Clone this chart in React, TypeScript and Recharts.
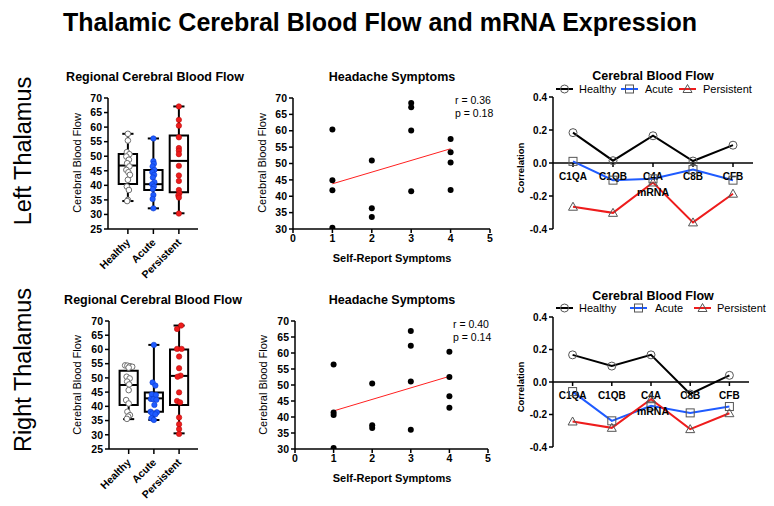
import React from 'react';
import { ComposedChart, Scatter, Line, XAxis, YAxis, ReferenceArea, ReferenceLine, ReferenceDot } from 'recharts';

const FONT = '"Liberation Sans", Arial, Helvetica, sans-serif';

// ---------- categories & ticks ----------
const groups = ['Healthy', 'Acute', 'Persistent'];
const groupPositions = [1, 2, 3];
const genes = ['C1QA', 'C1QB', 'C4A', 'C8B', 'CFB'];
const boxTicks = [25, 30, 35, 40, 45, 50, 55, 60, 65, 70];
const scatterYTicks = [30, 35, 40, 45, 50, 55, 60, 65, 70];
const scatterXTicks = [0, 1, 2, 3, 4, 5];
const corrTicks = [-0.4, -0.2, 0, 0.2, 0.4];

// ---------- Left thalamus: box plot summary ----------
const leftMin = [34.6, 32.1, 30.4];
const leftQ1 = [40.5, 38.4, 37.6];
const leftMedian = [46.8, 40.4, 48.4];
const leftQ3 = [50.8, 45.3, 57.1];
const leftMax = [57.7, 56.1, 67.1];

// ---------- Left thalamus: individual points ----------
const leftHealthyY = [57.7, 55.4, 51.4, 50.7, 49.9, 48.8, 47.6, 46.5, 45.3, 44.5, 43.6, 41.9, 39.6, 38.4, 35.0, 34.6];
const leftHealthyX = [1.0, 1.0, 0.96, 1.06, 0.94, 1.04, 0.97, 1.06, 0.94, 1.02, 1.08, 1.0, 0.96, 1.04, 1.0, 0.97];
const leftAcuteY = [56.1, 48.3, 47.4, 46.5, 45.3, 44.5, 43.6, 42.7, 41.1, 40.4, 39.6, 38.7, 36.7, 35.3, 32.1];
const leftAcuteX = [2.0, 2.0, 2.02, 1.97, 2.04, 1.96, 2.03, 1.98, 2.04, 1.95, 2.02, 1.98, 2.0, 1.97, 2.0];
const leftPersistentY = [67.1, 62.5, 60.5, 56.5, 52.8, 51.9, 50.7, 46.7, 43.4, 41.5, 38.4, 37.3, 36.5, 35.8, 30.3];
const leftPersistentX = [3.0, 3.0, 3.0, 3.0, 3.0, 3.0, 3.0, 3.0, 3.0, 3.0, 3.0, 3.02, 2.98, 3.0, 3.0];

// ---------- Right thalamus: box plot summary ----------
const rightMin = [35.5, 35.2, 30.5];
const rightQ1 = [40.5, 38.1, 40.5];
const rightMedian = [47.5, 42.8, 50.7];
const rightQ3 = [52.5, 44.9, 60.0];
const rightMax = [54.5, 61.6, 68.4];

// ---------- Right thalamus: individual points ----------
const rightHealthyY = [54.4, 54.3, 54.1, 53.9, 53.6, 50.4, 49.8, 48.7, 47.7, 45.7, 42.2, 41.0, 38.1, 36.9, 36.4, 35.6];
const rightHealthyX = [0.86, 0.95, 1.05, 1.14, 1.0, 0.92, 1.04, 0.94, 1.02, 1.0, 0.9, 1.0, 0.95, 1.05, 0.98, 0.93];
const rightAcuteY = [61.6, 48.4, 47.3, 44.2, 44.0, 42.6, 42.5, 42.3, 40.5, 38.1, 37.9, 37.5, 37.2, 35.8, 35.2];
const rightAcuteX = [2.0, 1.95, 2.06, 1.92, 2.08, 1.88, 1.98, 2.1, 2.02, 1.87, 2.12, 1.94, 2.06, 1.9, 2.0];
const rightPersistentY = [68.4, 67.2, 60.2, 60.2, 57.5, 53.4, 50.8, 50.4, 44.9, 41.9, 41.4, 36.1, 33.7, 32.0, 30.3];
const rightPersistentX = [3.08, 2.92, 2.92, 3.1, 3.0, 3.0, 3.06, 2.94, 3.0, 2.92, 3.04, 3.0, 3.0, 3.0, 3.0];

// ---------- Headache symptoms scatter ----------
const leftSymptoms = [1, 1, 1, 1, 2, 2, 2, 3, 3, 3, 3, 4, 4, 4, 4];
const leftFlow = [60.4, 44.9, 41.8, 30.4, 50.9, 36.3, 33.7, 68.5, 67.2, 60.1, 41.5, 57.5, 53.4, 50.3, 41.9];
const leftFitX = [1, 4];
const leftFitY = [43.8, 54.5];
const leftStats = ['r = 0.36', 'p = 0.18'];

const rightSymptoms = [1, 1, 1, 1, 2, 2, 2, 3, 3, 3, 3, 4, 4, 4, 4];
const rightFlow = [56.4, 41.4, 40.6, 30.3, 50.5, 37.4, 36.6, 66.9, 62.3, 51.1, 36.0, 60.4, 52.5, 46.5, 42.9];
const rightFitX = [1, 4];
const rightFitY = [41.9, 52.7];
const rightStats = ['r = 0.40', 'p = 0.14'];

// ---------- mRNA correlations ----------
const leftHealthyCorr = [0.184, 0.014, 0.165, 0.012, 0.108];
const leftAcuteCorr = [0.01, -0.104, -0.096, -0.04, -0.104];
const leftPersistentCorr = [-0.265, -0.302, -0.118, -0.36, -0.186];
const rightHealthyCorr = [0.167, 0.098, 0.167, -0.074, 0.041];
const rightAcuteCorr = [-0.059, -0.239, -0.147, -0.19, -0.151];
const rightPersistentCorr = [-0.243, -0.282, -0.106, -0.29, -0.192];

// ---------- styles ----------
const BLUE = '#1f5bff';
const RED = '#ee1c1c';
const AX = { stroke: '#000', strokeWidth: 1.5 };
const TICK = { fontSize: 10.5, fontWeight: 700, fill: '#000', fontFamily: FONT };
const TICK_SM = { fontSize: 10, fontWeight: 700, fill: '#000', fontFamily: FONT };

const zip = (xs: number[], ys: number[]) => xs.map((x, i) => ({ x, y: ys[i] }));

function frame(pl: number, pt: number, pr: number, pb: number, yW: number, xH: number) {
  const m = { top: 10, right: 12, left: 4, bottom: 6 };
  const left = pl - yW - m.left;
  const top = pt - m.top;
  return { left, top, width: pr + m.right - left, height: pb + xH + m.bottom - top, margin: m, yW, xH };
}

const GroupTick = (props: any) => {
  const { x, y, payload } = props;
  const label = groups[groupPositions.indexOf(payload.value)] ?? '';
  return (
    <text transform={`translate(${x + 3},${y + 8}) rotate(-45)`} textAnchor="end" fontSize={10.5} fontWeight={700} fill="#000" fontFamily={FONT}>
      {label}
    </text>
  );
};

function BoxPanel({ f, mins, q1, med, q3, maxs, healthy, acute, persistent }: any) {
  const bw = 0.36;
  const cw = 0.22;
  return (
    <div style={{ position: 'absolute', left: f.left, top: f.top }}>
      <ComposedChart width={f.width} height={f.height} margin={f.margin}>
        <XAxis type="number" dataKey="x" domain={[0.22, 3.75]} ticks={groupPositions} interval={0} allowDataOverflow height={f.xH} tickSize={5} tickMargin={1} tick={<GroupTick />} axisLine={AX} tickLine={AX} />
        <YAxis type="number" dataKey="y" domain={[25, 70]} ticks={boxTicks} interval={0} allowDataOverflow width={f.yW} tickSize={4} tickMargin={2} tick={TICK} axisLine={AX} tickLine={AX} />
        {groupPositions.map((p, i) => (
          <ReferenceArea key={'box' + i} x1={p - bw} x2={p + bw} y1={q1[i]} y2={q3[i]} fill="none" fillOpacity={0} stroke="#000" strokeWidth={2} ifOverflow="visible" />
        ))}
        {groupPositions.map((p, i) => (
          <ReferenceLine key={'med' + i} segment={[{ x: p - bw, y: med[i] }, { x: p + bw, y: med[i] }]} stroke="#000" strokeWidth={2} ifOverflow="visible" />
        ))}
        {groupPositions.map((p, i) => (
          <ReferenceLine key={'wu' + i} segment={[{ x: p, y: q3[i] }, { x: p, y: maxs[i] }]} stroke="#000" strokeWidth={2} ifOverflow="visible" />
        ))}
        {groupPositions.map((p, i) => (
          <ReferenceLine key={'wl' + i} segment={[{ x: p, y: mins[i] }, { x: p, y: q1[i] }]} stroke="#000" strokeWidth={2} ifOverflow="visible" />
        ))}
        {groupPositions.map((p, i) => (
          <ReferenceLine key={'cu' + i} segment={[{ x: p - cw, y: maxs[i] }, { x: p + cw, y: maxs[i] }]} stroke="#000" strokeWidth={2} ifOverflow="visible" />
        ))}
        {groupPositions.map((p, i) => (
          <ReferenceLine key={'cl' + i} segment={[{ x: p - cw, y: mins[i] }, { x: p + cw, y: mins[i] }]} stroke="#000" strokeWidth={2} ifOverflow="visible" />
        ))}
        <Scatter data={healthy} isAnimationActive={false} shape={(p: any) => <circle cx={p.cx} cy={p.cy} r={2.8} fill="#fff" stroke="#707070" strokeWidth={1} />} />
        <Scatter data={acute} isAnimationActive={false} shape={(p: any) => <circle cx={p.cx} cy={p.cy} r={2.7} fill={BLUE} stroke="#0b3bcc" strokeWidth={0.6} />} />
        <Scatter data={persistent} isAnimationActive={false} shape={(p: any) => <circle cx={p.cx} cy={p.cy} r={2.7} fill={RED} stroke="#b80d0d" strokeWidth={0.6} />} />
      </ComposedChart>
    </div>
  );
}

function ScatterPanel({ f, pts, fitX, fitY }: any) {
  return (
    <div style={{ position: 'absolute', left: f.left, top: f.top }}>
      <ComposedChart width={f.width} height={f.height} margin={f.margin}>
        <XAxis type="number" dataKey="x" domain={[0, 5]} ticks={scatterXTicks} interval={0} allowDataOverflow height={f.xH} tickSize={4} tickMargin={2} tick={TICK} axisLine={AX} tickLine={AX} />
        <YAxis type="number" dataKey="y" domain={[30, 70]} ticks={scatterYTicks} interval={0} allowDataOverflow width={f.yW} tickSize={4} tickMargin={2} tick={TICK} axisLine={AX} tickLine={AX} />
        <ReferenceLine segment={[{ x: fitX[0], y: fitY[0] }, { x: fitX[1], y: fitY[1] }]} stroke="#ff2020" strokeWidth={1} ifOverflow="visible" />
        <Scatter data={pts} isAnimationActive={false} shape={(p: any) => <circle cx={p.cx} cy={p.cy} r={3} fill="#000" />} />
      </ComposedChart>
    </div>
  );
}

const CircleDot = (p: any) => <circle key={p.key} cx={p.cx} cy={p.cy} r={4} fill="none" stroke="#555" strokeWidth={1} />;
const SquareDot = (p: any) => <rect key={p.key} x={p.cx - 4} y={p.cy - 4} width={8} height={8} fill="none" stroke="#555" strokeWidth={1} />;
const TriDot = (p: any) => (
  <polygon key={p.key} points={`${p.cx},${p.cy - 4.5} ${p.cx - 4.5},${p.cy + 3.5} ${p.cx + 4.5},${p.cy + 3.5}`} fill="none" stroke="#555" strokeWidth={1} />
);

function LinePanel({ f, healthy, acute, persistent }: any) {
  const rows = genes.map((g, i) => ({ gene: g, healthy: healthy[i], acute: acute[i], persistent: persistent[i] }));
  return (
    <div style={{ position: 'absolute', left: f.left, top: f.top }}>
      <ComposedChart width={f.width} height={f.height} margin={f.margin} data={rows}>
        <XAxis dataKey="gene" type="category" scale="band" hide height={0} />
        <YAxis type="number" domain={[-0.4, 0.4]} ticks={corrTicks} interval={0} allowDataOverflow width={f.yW} tickSize={4} tickMargin={2} tick={TICK_SM} tickFormatter={(v: number) => v.toFixed(1)} axisLine={AX} tickLine={AX} />
        <ReferenceLine y={0} stroke="#000" strokeWidth={1.5} />
        {genes.map((g) => (
          <ReferenceDot
            key={g}
            x={g}
            y={0}
            r={0}
            ifOverflow="visible"
            shape={(p: any) => (
              <g>
                <line x1={p.cx} y1={p.cy} x2={p.cx} y2={p.cy + 4} stroke="#000" strokeWidth={1.5} />
                <text x={p.cx} y={p.cy + 13} textAnchor="middle" dominantBaseline="central" fontSize={10} fontWeight={700} fill="#000" fontFamily={FONT}>
                  {g}
                </text>
              </g>
            )}
          />
        ))}
        <Line type="linear" dataKey="healthy" stroke="#000" strokeWidth={2} dot={CircleDot} activeDot={false} isAnimationActive={false} />
        <Line type="linear" dataKey="acute" stroke={BLUE} strokeWidth={2} dot={SquareDot} activeDot={false} isAnimationActive={false} />
        <Line type="linear" dataKey="persistent" stroke={RED} strokeWidth={2} dot={TriDot} activeDot={false} isAnimationActive={false} />
      </ComposedChart>
    </div>
  );
}

function T({ x, y, size = 11, weight = 400, anchor = 'middle', rotate = 0, children }: any) {
  return (
    <text
      transform={`translate(${x},${y}) rotate(${rotate})`}
      textAnchor={anchor}
      dominantBaseline="central"
      fontSize={size}
      fontWeight={weight}
      fill="#000"
      fontFamily={FONT}
    >
      {children}
    </text>
  );
}

function LegendRow({ y, xs }: { y: number; xs: number[][] }) {
  // xs: [lineStart, textStart] for each series
  const colors = ['#000', BLUE, RED];
  const dots = [CircleDot, SquareDot, TriDot];
  const names = ['Healthy', 'Acute', 'Persistent'];
  return (
    <g>
      {names.map((n, i) => {
        const [ls, ts] = xs[i];
        const D = dots[i];
        return (
          <g key={n}>
            <line x1={ls} y1={y} x2={ls + 17} y2={y} stroke={colors[i]} strokeWidth={2} />
            <D cx={ls + 8.5} cy={y} />
            <T x={ts} y={y} anchor="start" size={11}>
              {n}
            </T>
          </g>
        );
      })}
    </g>
  );
}

export default function App() {
  const bL = frame(108, 98, 198, 229, 30, 50);
  const bR = frame(109, 321, 198, 449, 30, 50);
  const sL = frame(293, 98, 490, 229, 30, 30);
  const sR = frame(295, 321, 488, 449, 30, 30);
  const lL = frame(553, 97, 753, 229, 30, 0);
  const lR = frame(553, 317, 749, 447, 30, 0);

  return (
    <div style={{ position: 'absolute', left: 0, top: 0, width: 774, height: 506, background: '#fff', overflow: 'hidden', fontFamily: FONT }}>
      <BoxPanel f={bL} mins={leftMin} q1={leftQ1} med={leftMedian} q3={leftQ3} maxs={leftMax}
        healthy={zip(leftHealthyX, leftHealthyY)} acute={zip(leftAcuteX, leftAcuteY)} persistent={zip(leftPersistentX, leftPersistentY)} />
      <BoxPanel f={bR} mins={rightMin} q1={rightQ1} med={rightMedian} q3={rightQ3} maxs={rightMax}
        healthy={zip(rightHealthyX, rightHealthyY)} acute={zip(rightAcuteX, rightAcuteY)} persistent={zip(rightPersistentX, rightPersistentY)} />
      <ScatterPanel f={sL} pts={zip(leftSymptoms, leftFlow)} fitX={leftFitX} fitY={leftFitY} />
      <ScatterPanel f={sR} pts={zip(rightSymptoms, rightFlow)} fitX={rightFitX} fitY={rightFitY} />
      <LinePanel f={lL} healthy={leftHealthyCorr} acute={leftAcuteCorr} persistent={leftPersistentCorr} />
      <LinePanel f={lR} healthy={rightHealthyCorr} acute={rightAcuteCorr} persistent={rightPersistentCorr} />

      <svg width={774} height={506} style={{ position: 'absolute', left: 0, top: 0, pointerEvents: 'none' }}>
        <T x={380} y={22} size={25} weight={700}>Thalamic Cerebral Blood Flow and mRNA Expression</T>
        <T x={23} y={151} size={23.5} rotate={-90}>Left Thalamus</T>
        <T x={23} y={370} size={23.5} rotate={-90}>Right Thalamus</T>

        <T x={155} y={77} size={12.5} weight={700}>Regional Cerebral Blood Flow</T>
        <T x={392} y={77} size={12.5} weight={700}>Headache Symptoms</T>
        <T x={653} y={76} size={12.5} weight={700}>Cerebral Blood Flow</T>
        <T x={153} y={300} size={12.5} weight={700}>Regional Cerebral Blood Flow</T>
        <T x={392} y={300} size={12.5} weight={700}>Headache Symptoms</T>
        <T x={653} y={296} size={12.5} weight={700}>Cerebral Blood Flow</T>

        <T x={77} y={163} size={11} rotate={-90}>Cerebral Blood Flow</T>
        <T x={77} y={385} size={11} rotate={-90}>Cerebral Blood Flow</T>
        <T x={262} y={163} size={11} rotate={-90}>Cerebral Blood Flow</T>
        <T x={263} y={385} size={11} rotate={-90}>Cerebral Blood Flow</T>
        <T x={520} y={168} size={9.5} weight={700} rotate={-90}>Correlation</T>
        <T x={520} y={387} size={9.5} weight={700} rotate={-90}>Correlation</T>

        <T x={392} y={258} size={11} weight={600}>Self-Report Symptoms</T>
        <T x={392} y={478} size={11} weight={600}>Self-Report Symptoms</T>
        <T x={653} y={192} size={10.5} weight={700}>mRNA</T>
        <T x={653} y={411} size={10.5} weight={700}>mRNA</T>

        <T x={455} y={100} size={10.5} anchor="start">{leftStats[0]}</T>
        <T x={455} y={113} size={10.5} anchor="start">{leftStats[1]}</T>
        <T x={453} y={324} size={10.5} anchor="start">{rightStats[0]}</T>
        <T x={453} y={337} size={10.5} anchor="start">{rightStats[1]}</T>

        <LegendRow y={89} xs={[[556, 579], [621, 645], [679, 703]]} />
        <LegendRow y={308} xs={[[556, 579], [630, 655], [694, 717]]} />
      </svg>
    </div>
  );
}
